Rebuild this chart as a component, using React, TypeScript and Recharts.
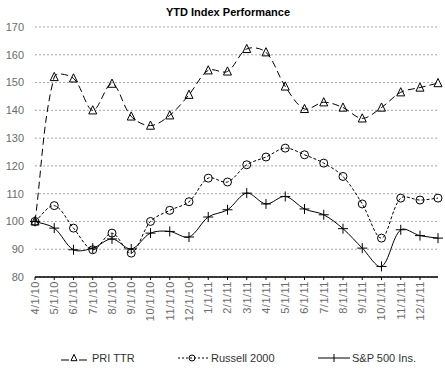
import { LineChart, Line, XAxis, YAxis, CartesianGrid, Legend } from 'recharts';

const dates = [
  '4/1/10', '5/1/10', '6/1/10', '7/1/10', '8/1/10', '9/1/10', '10/1/10', '11/1/10', '12/1/10',
  '1/1/11', '2/1/11', '3/1/11', '4/1/11', '5/1/11', '6/1/11', '7/1/11', '8/1/11', '9/1/11',
  '10/1/11', '11/1/11', '12/1/11', '12/30/11',
];

const tickLabels = [
  '4/1/10', '5/1/10', '6/1/10', '7/1/10', '8/1/10', '9/1/10', '10/1/10', '11/1/10', '12/1/10',
  '1/1/11', '2/1/11', '3/1/11', '4/1/11', '5/1/11', '6/1/11', '7/1/11', '8/1/11', '9/1/11',
  '10/1/11', '11/1/11', '12/1/11',
];

const priTtr = [100, 152, 151.5, 140, 149.6, 137.8, 134.5, 138.2, 145.6, 154.4, 154, 162.1, 160.9, 148.6, 140.5, 142.9, 141, 137.1, 141, 146.5, 148.2, 149.8];
const russell2000 = [100, 105.7, 97.6, 89.8, 95.8, 88.6, 100, 104, 107.1, 115.6, 114.2, 120.4, 123.2, 126.4, 124, 121, 116.2, 106.3, 94, 108.4, 107.7, 108.4];
const sp500 = [100, 97.6, 89.8, 90.4, 93.7, 90.1, 95.8, 96.4, 94.4, 101.6, 104.2, 110.2, 106.3, 109, 104.5, 102.4, 97.4, 90.4, 83.8, 97, 94.9, 94];

const yTicks = [80, 90, 100, 110, 120, 130, 140, 150, 160, 170];

// months since 4/1/10, with the day as a fraction of its month (Excel date axis)
const monthPos = (d: string) => {
  const [m, day, yy] = d.split('/').map(Number);
  const year = 2000 + yy;
  const daysInMonth = new Date(year, m, 0).getDate();
  return (yy - 10) * 12 + (m - 4) + (day - 1) / daysInMonth;
};

const data = dates.map((d, i) => ({
  x: monthPos(d),
  pri: priTtr[i],
  russell: russell2000[i],
  sp: sp500[i],
}));

const maxX = data[data.length - 1].x;

// Excel-like smoothing: bezier with tangents weighted by chord length
const excelSmooth = (context: any) => {
  let pts: number[][] = [];
  const dist = (a: number[], b: number[]) => Math.hypot(b[0] - a[0], b[1] - a[1]) || 1;
  return {
    areaStart() {},
    areaEnd() {},
    lineStart() {
      pts = [];
    },
    point(x: number, y: number) {
      pts.push([+x, +y]);
    },
    lineEnd() {
      if (!pts.length) return;
      context.moveTo(pts[0][0], pts[0][1]);
      for (let i = 0; i < pts.length - 1; i++) {
        const p0 = pts[i - 1] || pts[i];
        const p1 = pts[i];
        const p2 = pts[i + 1];
        const p3 = pts[i + 2] || p2;
        const d01 = dist(p0, p1);
        const d12 = dist(p1, p2);
        const d23 = dist(p2, p3);
        const f1 = d12 / (d01 + d12) / 3;
        const f2 = d12 / (d12 + d23) / 3;
        context.bezierCurveTo(
          p1[0] + (p2[0] - p0[0]) * f1,
          p1[1] + (p2[1] - p0[1]) * f1,
          p2[0] - (p3[0] - p1[0]) * f2,
          p2[1] - (p3[1] - p1[1]) * f2,
          p2[0],
          p2[1]
        );
      }
    },
  };
};

const TriangleDot = ({ cx, cy, size = 8 }: any) => {
  if (cx == null || cy == null) return null;
  const h = size * 0.9;
  return (
    <path
      d={`M${cx},${cy - h / 2 - 1} L${cx + size / 2},${cy + h / 2} L${cx - size / 2},${cy + h / 2} Z`}
      fill="none"
      stroke="#000"
      strokeWidth={1}
    />
  );
};

const CircleDot = ({ cx, cy, r = 4 }: any) => {
  if (cx == null || cy == null) return null;
  return <circle cx={cx} cy={cy} r={r} fill="none" stroke="#000" strokeWidth={1} />;
};

const PlusDot = ({ cx, cy, size = 10 }: any) => {
  if (cx == null || cy == null) return null;
  const s = size / 2;
  return (
    <path
      d={`M${cx - s},${cy} L${cx + s},${cy} M${cx},${cy - s} L${cx},${cy + s}`}
      stroke="#000"
      strokeWidth={1}
      fill="none"
    />
  );
};

const XTick = ({ x, y, payload }: any) => {
  const label = tickLabels[Math.round(payload.value)];
  return (
    <text
      x={x}
      y={y}
      transform={`rotate(-90, ${x}, ${y})`}
      textAnchor="end"
      dy="0.35em"
      fontSize={11}
      letterSpacing={0.5}
      fill="#6b6b6b"
      fontFamily="Liberation Sans, Arial, sans-serif"
    >
      {label}
    </text>
  );
};

const CustomLegend = () => {
  const textStyle = { fontSize: 11, color: '#333', fontFamily: 'Liberation Sans, Arial, sans-serif' };
  return (
    <div style={{ position: 'relative', width: 445, height: 16, lineHeight: '16px' }}>
      <div style={{ position: 'absolute', left: 56, top: 0, display: 'flex', alignItems: 'center' }}>
        <svg width={26} height={12}>
          <line x1={0} y1={8} x2={8} y2={8} stroke="#000" />
          <TriangleDot cx={13} cy={6} size={6} />
          <line x1={18} y1={8} x2={26} y2={8} stroke="#000" />
        </svg>
        <span style={{ ...textStyle, marginLeft: 5 }}>PRI TTR</span>
      </div>
      <div style={{ position: 'absolute', left: 173, top: 0, display: 'flex', alignItems: 'center' }}>
        <svg width={31} height={12}>
          <line x1={0} y1={6} x2={31} y2={6} stroke="#000" strokeDasharray="2 2" />
          <CircleDot cx={14} cy={6} r={3} />
        </svg>
        <span style={{ ...textStyle, marginLeft: 2 }}>Russell 2000</span>
      </div>
      <div style={{ position: 'absolute', left: 313, top: 0, display: 'flex', alignItems: 'center' }}>
        <svg width={32} height={12}>
          <line x1={0} y1={6} x2={32} y2={6} stroke="#000" />
          <line x1={16} y1={2} x2={16} y2={10} stroke="#000" />
        </svg>
        <span style={{ ...textStyle, marginLeft: 2 }}>S&amp;P 500 Ins.</span>
      </div>
    </div>
  );
};

export default function App() {
  return (
    <div style={{ position: 'absolute', left: 0, top: 0, width: 445, height: 369, background: '#fff' }}>
      <div
        style={{
          position: 'absolute',
          top: 5,
          left: 11,
          width: 434,
          textAlign: 'center',
          fontFamily: 'Liberation Sans, Arial, sans-serif',
          fontWeight: 'bold',
          fontSize: 11,
          lineHeight: '14px',
          color: '#000',
        }}
      >
        YTD Index Performance
      </div>
      <LineChart width={445} height={369} data={data} margin={{ top: 27, right: 7, left: 5, bottom: 3 }}>
        <CartesianGrid vertical={false} stroke="#a6a6a6" strokeDasharray="2 2" />
        <XAxis
          dataKey="x"
          type="number"
          domain={[0, maxX]}
          ticks={tickLabels.map((_, i) => i)}
          interval={0}
          height={73}
          axisLine={{ stroke: '#000', strokeWidth: 1.5 }}
          tickLine={{ stroke: '#000' }}
          tickSize={3}
          tickMargin={1}
          tick={<XTick />}
        />
        <YAxis
          domain={[80, 170]}
          ticks={yTicks}
          width={30}
          axisLine={false}
          tickLine={false}
          tickSize={6}
          tickMargin={5}
          tick={{ fontSize: 11, fill: '#6b6b6b', fontFamily: 'Liberation Sans, Arial, sans-serif' }}
        />
        <Legend verticalAlign="bottom" content={<CustomLegend />} />
        <Line
          dataKey="pri"
          name="PRI TTR"
          type={excelSmooth as any}
          stroke="#000"
          strokeWidth={1}
          strokeDasharray="7 4"
          dot={(p: any) => <TriangleDot key={`t-${p.index}`} cx={p.cx} cy={p.cy} />}
          activeDot={false}
          isAnimationActive={false}
        />
        <Line
          dataKey="russell"
          name="Russell 2000"
          type={excelSmooth as any}
          stroke="#000"
          strokeWidth={1}
          strokeDasharray="3 2"
          dot={(p: any) => <CircleDot key={`c-${p.index}`} cx={p.cx} cy={p.cy} />}
          activeDot={false}
          isAnimationActive={false}
        />
        <Line
          dataKey="sp"
          name="S&P 500 Ins."
          type={excelSmooth as any}
          stroke="#000"
          strokeWidth={1}
          dot={(p: any) => <PlusDot key={`p-${p.index}`} cx={p.cx} cy={p.cy} />}
          activeDot={false}
          isAnimationActive={false}
        />
      </LineChart>
    </div>
  );
}
